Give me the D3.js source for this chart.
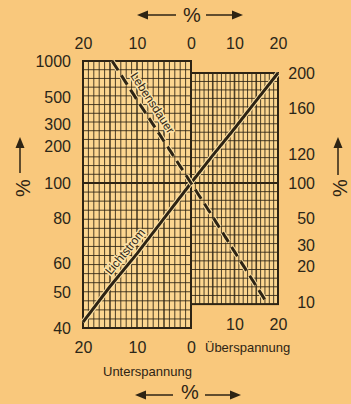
<!DOCTYPE html>
<html>
<head>
<meta charset="utf-8">
<script src="https://cdn.jsdelivr.net/npm/d3@7"></script>
<style>
  body { margin: 0; background: #f9c87c; }
  svg { display: block; font-family: "Liberation Sans", Arial, sans-serif; }
  .axis text { font-size: 16px; fill: #2b2618; }
  .axis path, .axis line { display: none; }
</style>
</head>
<body>
<div id="chart"></div>
<script>
// spannungsabweichung in % (negativ = unterspannung) und wert in %
var lichtstromV = [-20, -15, -10, -5, 0, 5, 10, 15, 20];
var lichtstromPct = [41.5, 52, 64, 80, 100, 119, 141, 168, 200];
var lebensdauerV = [-14.6, -10, -5, 0, 5, 10, 15, 17.5];
var lebensdauerPct = [1000, 480, 220, 100, 52, 26.5, 13.6, 9.8];

var xTicks = [-20, -10, 0, 10, 20];
var xTicksUnder = [-20, -10, 0];
var xTicksOver = [10, 20];
var leftTicks = [40, 50, 60, 80, 100, 200, 300, 500, 1000];
var rightTicks = [10, 20, 30, 50, 100, 120, 160, 200];

var width = 351;
var height = 404;

var ink = "#2e2414";
var paper = "#fcd690";
var halo = "#fde3a8";

var svg = d3.select("#chart")
            .append("svg")
              .attr("width", width)
              .attr("height", height);

svg.append("rect")
    .attr("width", width)
    .attr("height", height)
    .attr("fill", "#f9c87c");

// scales: links unterspannung, rechts ueberspannung, beide log, geknickt bei 100
var x = d3.scaleLinear().domain([-20, 0, 20]).range([83, 191, 278]);
var yLeft = d3.scaleLog().domain([40, 100, 1000]).range([328, 183, 61]);
var yRight = d3.scaleLog().domain([10, 100, 200]).range([302, 183, 73]);
var rightBottom = yRight(9.6);

var leftBox = {x0: x(-20), x1: x(0), y0: yLeft(1000), y1: yLeft(40)};
var rightBox = {x0: x(0), x1: x(20), y0: yRight(200), y1: rightBottom};

// grid
var grid = svg.append("g").attr("class", "grid");

[leftBox, rightBox].forEach(function(b) {
  grid.append("rect")
      .attr("x", b.x0)
      .attr("y", b.y0)
      .attr("width", b.x1 - b.x0)
      .attr("height", b.y1 - b.y0)
      .attr("fill", paper);
});

function vLines(vals, y0, y1) {
  grid.selectAll(null)
      .data(vals)
      .enter()
    .append("line")
      .attr("x1", function(d) { return x(d); })
      .attr("x2", function(d) { return x(d); })
      .attr("y1", y0)
      .attr("y2", y1)
      .attr("stroke", ink)
      .attr("stroke-opacity", 0.85)
      .attr("stroke-width", function(d) { return d % 5 === 0 ? 1.6 : 1; });
}
vLines(d3.range(-19, 0), leftBox.y0, leftBox.y1);
vLines(d3.range(1, 20), rightBox.y0, rightBox.y1);

// horizontale linien gleichmaessig im bild verteilt
function hLines(x0, x1, y0, y1, n) {
  grid.selectAll(null)
      .data(d3.range(1, n))
      .enter()
    .append("line")
      .attr("x1", x0)
      .attr("x2", x1)
      .attr("y1", function(i) { return y0 + (y1 - y0) * i / n; })
      .attr("y2", function(i) { return y0 + (y1 - y0) * i / n; })
      .attr("stroke", ink)
      .attr("stroke-opacity", 0.85)
      .attr("stroke-width", 1);
}
hLines(leftBox.x0, leftBox.x1, yLeft(1000), yLeft(100), 14);
hLines(leftBox.x0, leftBox.x1, yLeft(100), yLeft(40), 16);
hLines(rightBox.x0, rightBox.x1, yRight(200), yRight(100), 13);
hLines(rightBox.x0, rightBox.x1, yRight(100), rightBottom, 14);

[leftBox, rightBox].forEach(function(b) {
  grid.append("rect")
      .attr("x", b.x0)
      .attr("y", b.y0)
      .attr("width", b.x1 - b.x0)
      .attr("height", b.y1 - b.y0)
      .attr("fill", "none")
      .attr("stroke", ink)
      .attr("stroke-width", 2);
});

grid.append("line")
    .attr("x1", x(-20))
    .attr("x2", x(20))
    .attr("y1", yLeft(100))
    .attr("y2", yLeft(100))
    .attr("stroke", ink)
    .attr("stroke-width", 2);

// kurven
function toPoints(vs, ps) {
  return vs.map(function(v, i) { return {v: v, p: ps[i]}; });
}
function px(d) { return x(d.v); }
function py(d) { return d.v <= 0 ? yLeft(d.p) : yRight(d.p); }

var line = d3.line().x(px).y(py);

var lichtstrom = toPoints(lichtstromV, lichtstromPct);
var lebensdauer = toPoints(lebensdauerV, lebensdauerPct);

svg.append("path")
    .datum(lichtstrom)
    .attr("d", line)
    .attr("fill", "none")
    .attr("stroke", halo)
    .attr("stroke-width", 5);
svg.append("path")
    .datum(lichtstrom)
    .attr("d", line)
    .attr("fill", "none")
    .attr("stroke", ink)
    .attr("stroke-width", 3);

svg.append("path")
    .datum(lebensdauer)
    .attr("d", line)
    .attr("fill", "none")
    .attr("stroke", halo)
    .attr("stroke-width", 5)
    .attr("stroke-dasharray", "11,6");
svg.append("path")
    .datum(lebensdauer)
    .attr("d", line)
    .attr("fill", "none")
    .attr("stroke", ink)
    .attr("stroke-width", 3)
    .attr("stroke-dasharray", "11,6");

// beschriftung entlang der kurve
function curveLabel(pts, v, offset, label) {
  var i = d3.bisector(function(d) { return d.v; }).right(pts, v) - 1;
  var a = pts[i];
  var b = pts[i + 1];
  var t = (v - a.v) / (b.v - a.v);
  var cx = px(a) + t * (px(b) - px(a));
  var cy = py(a) + t * (py(b) - py(a));
  var angle = Math.atan2(py(b) - py(a), px(b) - px(a)) * 180 / Math.PI;
  svg.append("text")
      .attr("transform", "translate(" + cx + "," + cy + ") rotate(" + angle + ")")
      .attr("y", offset)
      .attr("dy", "0.35em")
      .attr("text-anchor", "middle")
      .attr("font-size", 12)
      .attr("fill", ink)
      .attr("stroke", halo)
      .attr("stroke-width", 3)
      .attr("paint-order", "stroke")
      .text(label);
}
curveLabel(lichtstrom, -10.7, -10.5, "Lichtstrom");
curveLabel(lebensdauer, -8.9, -11.5, "Lebensdauer");

// achsen
var fmtAbs = function(d) { return Math.abs(d); };

svg.append("g")
    .attr("class", "axis")
    .attr("transform", "translate(0," + leftBox.y0 + ")")
    .call(d3.axisTop(x).tickValues(xTicks).tickSize(0).tickPadding(12).tickFormat(fmtAbs));

svg.append("g")
    .attr("class", "axis")
    .attr("transform", "translate(0," + leftBox.y1 + ")")
    .call(d3.axisBottom(x).tickValues(xTicksUnder).tickSize(0).tickPadding(14).tickFormat(fmtAbs));

svg.append("g")
    .attr("class", "axis")
    .attr("transform", "translate(0," + rightBox.y1 + ")")
    .call(d3.axisBottom(x).tickValues(xTicksOver).tickSize(0).tickPadding(14.5).tickFormat(fmtAbs));

svg.append("g")
    .attr("class", "axis")
    .attr("transform", "translate(" + leftBox.x0 + ",0)")
    .call(d3.axisLeft(yLeft).tickValues(leftTicks).tickSize(0).tickPadding(12).tickFormat(d3.format("d")));

svg.append("g")
    .attr("class", "axis")
    .attr("transform", "translate(" + rightBox.x1 + ",0)")
    .call(d3.axisRight(yRight).tickValues(rightTicks).tickSize(0).tickFormat(d3.format("d")))
  .selectAll("text")
    .attr("x", 37)
    .attr("text-anchor", "end");

// prozent-titel mit pfeilen
function arrow(x1, y1, x2, y2) {
  var ang = Math.atan2(y2 - y1, x2 - x1);
  var len = 11, hw = 4.5;
  var bx = x2 - len * Math.cos(ang), by = y2 - len * Math.sin(ang);
  svg.append("line")
      .attr("x1", x1).attr("y1", y1)
      .attr("x2", bx).attr("y2", by)
      .attr("stroke", ink)
      .attr("stroke-width", 1.5);
  svg.append("path")
      .attr("d", "M" + x2 + "," + y2 +
                 "L" + (bx - hw * Math.sin(ang)) + "," + (by + hw * Math.cos(ang)) +
                 "L" + (bx + hw * Math.sin(ang)) + "," + (by - hw * Math.cos(ang)) + "Z")
      .attr("fill", ink);
}

function pct(tx, ty, rot) {
  svg.append("text")
      .attr("transform", "translate(" + tx + "," + ty + ") rotate(" + rot + ")")
      .attr("text-anchor", "middle")
      .attr("dy", "0.35em")
      .attr("font-size", 20)
      .attr("fill", ink)
      .text("%");
}

pct(192, 15, 0);
arrow(176, 15, 137, 15);
arrow(206, 15, 243, 15);

pct(190, 392, 0);
arrow(173, 395, 135, 395);
arrow(205, 395, 241, 395);

pct(23, 188, -90);
arrow(20, 173, 20, 137);

pct(340, 188, -90);
arrow(338, 175, 338, 137);

svg.append("text")
    .attr("x", 103)
    .attr("y", 376)
    .attr("font-size", 13)
    .attr("fill", ink)
    .text("Unterspannung");

svg.append("text")
    .attr("x", 205)
    .attr("y", 352)
    .attr("font-size", 13)
    .attr("fill", ink)
    .text("Überspannung");
</script>
</body>
</html>
